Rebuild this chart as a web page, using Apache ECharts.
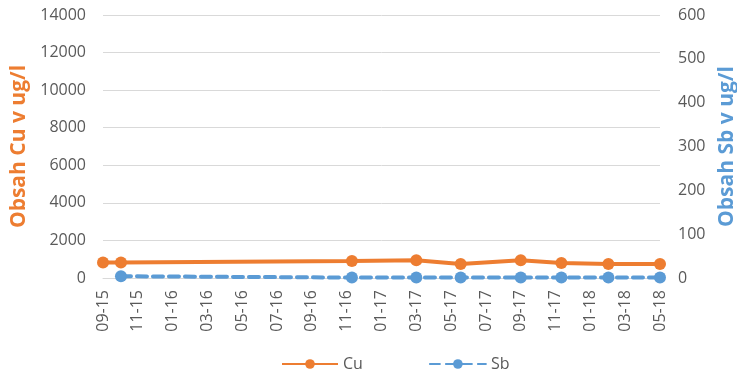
<!DOCTYPE html>
<html>
<head>
<meta charset="utf-8">
<script src="https://cdn.jsdelivr.net/npm/echarts@6/dist/echarts.min.js"></script>
<style>
  html, body { margin: 0; padding: 0; background: #fff; }
  #chart { width: 737px; height: 375px; }
</style>
</head>
<body>
<div id="chart"></div>
<script>
// odběrová data
var cuDates = ['2015-09-01', '2015-10-02', '2016-11-10', '2017-03-01', '2017-05-18',
               '2017-09-01', '2017-11-11', '2018-02-02', '2018-05-01'];
var cuValues = [830, 830, 900, 940, 750, 940, 800, 750, 750];

var sbDates = ['2015-10-02', '2016-11-10', '2017-03-01', '2017-05-18',
               '2017-09-01', '2017-11-11', '2018-02-02', '2018-05-01'];
var sbValues = [4, 1, 1, 1, 1, 1, 1, 1];

var startYear = 2015, startMonth = 9;

// měsíce od 09-15 (desetinně)
function monthPos(s) {
    var p = s.split('-');
    var y = +p[0], m = +p[1], d = +p[2];
    var dim = new Date(y, m, 0).getDate();
    return (y - startYear) * 12 + (m - startMonth) + (d - 1) / dim;
}

function monthLabel(v) {
    var total = startMonth - 1 + Math.round(v);
    var y = startYear + Math.floor(total / 12);
    var m = total % 12 + 1;
    return (m < 10 ? '0' + m : '' + m) + '-' + String(y).slice(2);
}

function pairs(dates, vals) {
    var out = [];
    for (var i = 0; i < dates.length; i++) {
        out.push([monthPos(dates[i]), vals[i]]);
    }
    return out;
}

function plain(v) {
    return String(v);
}

var font = 'Open Sans';
var grey = '#595959';

var chart = echarts.init(document.getElementById('chart'));

chart.setOption({
    animation: false,
    textStyle: { fontFamily: font },
    grid: { left: 103, right: 77, top: 15, bottom: 97, outerBoundsMode: 'none', containLabel: false },
    legend: {
        top: 351,
        left: 276,
        itemWidth: 56,
        itemHeight: 12,
        itemGap: 66,
        textStyle: { color: grey, fontSize: 16, fontFamily: font },
        data: ['Cu', 'Sb']
    },
    xAxis: {
        type: 'value',
        min: 0,
        max: 32,
        interval: 2,
        axisLine: { show: true, lineStyle: { color: '#d9d9d9' } },
        axisTick: { show: false },
        splitLine: { show: false },
        axisLabel: {
            rotate: 90,
            margin: 12,
            color: grey,
            fontSize: 16,
            formatter: monthLabel
        }
    },
    yAxis: [{
        type: 'value',
        min: 0,
        max: 14000,
        interval: 2000,
        name: 'Obsah Cu v ug/l',
        nameLocation: 'middle',
        nameRotate: 90,
        nameGap: 66,
        nameTextStyle: { color: '#ED7D31', fontSize: 21, fontWeight: 'bold' },
        axisLine: { show: false },
        axisTick: { show: false },
        axisLabel: { color: grey, fontSize: 16, margin: 17, formatter: plain },
        splitLine: { lineStyle: { color: '#d9d9d9' } }
    }, {
        type: 'value',
        min: 0,
        max: 600,
        interval: 100,
        name: 'Obsah Sb v ug/l',
        nameLocation: 'middle',
        nameRotate: 90,
        nameGap: 53,
        nameTextStyle: { color: '#5B9BD5', fontSize: 21, fontWeight: 'bold' },
        axisLine: { show: false },
        axisTick: { show: false },
        axisLabel: { color: grey, fontSize: 16, margin: 18, formatter: plain },
        splitLine: { show: false }
    }],
    series: [{
        name: 'Cu',
        type: 'line',
        yAxisIndex: 0,
        data: pairs(cuDates, cuValues),
        symbol: 'circle',
        symbolSize: 12,
        lineStyle: { color: '#ED7D31', width: 4 },
        itemStyle: { color: '#ED7D31' }
    }, {
        name: 'Sb',
        type: 'line',
        yAxisIndex: 1,
        data: pairs(sbDates, sbValues),
        symbol: 'circle',
        symbolSize: 12,
        lineStyle: { color: '#5B9BD5', width: 4, type: [10, 6], cap: 'round' },
        itemStyle: { color: '#5B9BD5' }
    }]
});
</script>
</body>
</html>
